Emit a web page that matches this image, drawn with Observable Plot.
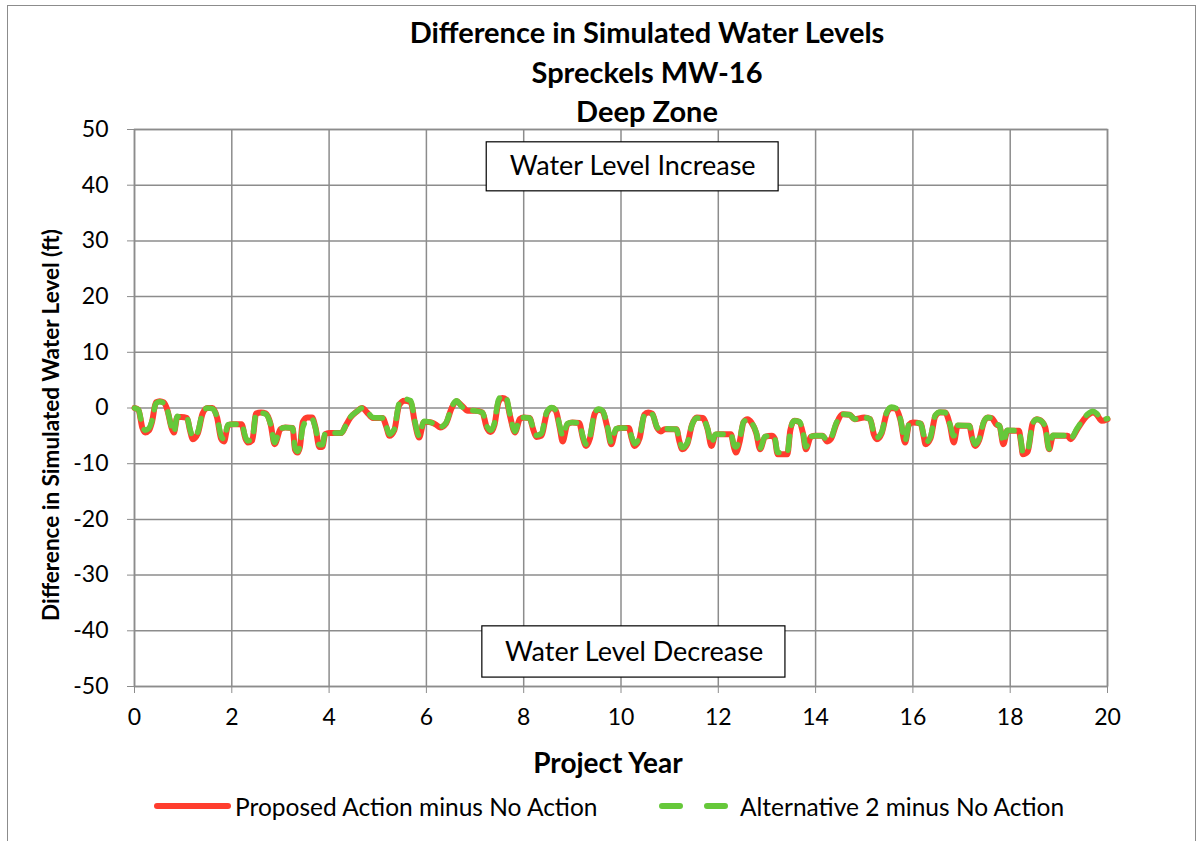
<!DOCTYPE html>
<html>
<head>
<meta charset="utf-8">
<script src="https://cdn.jsdelivr.net/npm/d3@7"></script>
<script src="https://cdn.jsdelivr.net/npm/@observablehq/plot@0.6"></script>
<style>
  html, body { margin: 0; padding: 0; background: #fff; }
  #chart { position: relative; width: 1203px; height: 841px; overflow: hidden; font-family: Lato, "Open Sans", sans-serif; color: #000; }
  #border { position: absolute; left: 7px; top: 5px; width: 1189px; height: 900px; border: 1px solid #8c8c8c; box-sizing: border-box; }
  #title { position: absolute; left: 0; width: 1294px; top: 12px; text-align: center; font-weight: 700; font-size: 29px; line-height: 39.5px; }
  #ylabel { position: absolute; left: 50px; top: 425px; transform: translate(-50%, -50%) rotate(-90deg); white-space: nowrap; font-weight: 700; font-size: 22.5px; }
  #xlabel { position: absolute; left: 608px; top: 762px; transform: translate(-50%, -50%); white-space: nowrap; font-weight: 700; font-size: 28px; }
  #plot { position: absolute; left: 0; top: 0; }
  #legend { position: absolute; left: 0; top: 789px; width: 1203px; height: 34px; }
  #legend .item { position: absolute; top: 0; display: flex; align-items: center; height: 34px; font-size: 24.5px; white-space: nowrap; }
</style>
</head>
<body>
<div id="chart">
  <div id="border"></div>
  <div id="plot"></div>
  <div id="title">Difference in Simulated Water Levels<br>Spreckels MW-16<br>Deep Zone</div>
  <div id="ylabel">Difference in Simulated Water Level (ft)</div>
  <div id="xlabel">Project Year</div>
  <div id="legend"></div>
</div>
<script>
// Project year of each simulated value
const years = [
  0.00, 0.08, 0.16, 0.22, 0.30, 0.36, 0.44, 0.52, 0.60, 0.68, 0.76, 0.81, 0.88, 0.96,
  1.08, 1.14, 1.20, 1.30, 1.40, 1.50, 1.60, 1.70, 1.78, 1.84, 1.92,
  2.00, 2.20, 2.28, 2.33, 2.42, 2.50, 2.60, 2.70, 2.80, 2.88,
  3.00, 3.10, 3.25, 3.30, 3.35, 3.40, 3.46, 3.55, 3.65, 3.72, 3.80, 3.86, 3.92,
  4.00, 4.25, 4.34, 4.44, 4.56, 4.68, 4.78, 4.90,
  5.10, 5.18, 5.24, 5.34, 5.44, 5.55, 5.68, 5.76, 5.85, 5.95,
  6.05, 6.20, 6.28, 6.40, 6.52, 6.62, 6.72, 6.85,
  7.00, 7.15, 7.24, 7.32, 7.40, 7.48, 7.56, 7.64, 7.72, 7.82, 7.92,
  8.00, 8.12, 8.20, 8.26, 8.36, 8.48, 8.58, 8.66, 8.74, 8.80, 8.90,
  9.00, 9.14, 9.22, 9.28, 9.36, 9.46, 9.54, 9.62, 9.72, 9.80, 9.90,
  10.00, 10.16, 10.22, 10.28, 10.38, 10.48, 10.56, 10.64, 10.74, 10.82, 10.90,
  11.14, 11.20, 11.26, 11.36, 11.46, 11.56, 11.68, 11.78, 11.86, 11.94,
  12.00, 12.26, 12.32, 12.36, 12.44, 12.52, 12.60, 12.68, 12.78, 12.86, 12.96,
  13.10, 13.16, 13.22, 13.42, 13.48, 13.56, 13.66, 13.74, 13.80, 13.90,
  14.00, 14.14, 14.24, 14.32, 14.42, 14.56, 14.70, 14.80,
  15.00, 15.12, 15.20, 15.26, 15.36, 15.46, 15.56, 15.66, 15.74, 15.84, 15.92,
  16.00, 16.16, 16.22, 16.26, 16.36, 16.46, 16.56, 16.66, 16.76, 16.84, 16.92,
  17.16, 17.22, 17.28, 17.36, 17.46, 17.54, 17.62, 17.72, 17.78, 17.86, 17.94,
  18.18, 18.22, 18.26, 18.36, 18.46, 18.55, 18.62, 18.72, 18.80, 18.88,
  19.18, 19.24, 19.38, 19.58, 19.70, 19.78, 19.88, 20.00
];

// Proposed Action minus No Action (ft)
const proposed = [
  0.0, -0.3, -3.5, -4.4, -4.0, -2.5, 1.0, 1.2, 1.0, -0.5, -3.5, -4.4, -1.6, -1.6,
  -1.8, -4.0, -5.6, -4.6, -1.0, 0.0, 0.0, -1.8, -5.5, -6.0, -3.2,
  -2.9, -2.9, -5.5, -6.2, -5.8, -1.0, -0.8, -1.0, -3.0, -6.5,
  -3.8, -3.5, -3.6, -7.5, -8.0, -7.0, -2.5, -1.7, -1.7, -3.5, -7.0, -7.0, -4.7,
  -4.5, -4.5, -3.2, -1.7, -0.7, 0.0, -0.8, -1.8,
  -1.8, -3.5, -5.0, -4.0, 0.5, 1.3, 1.0, -2.5, -5.3, -2.5,
  -2.5, -3.0, -3.5, -2.8, 0.0, 1.2, 0.5, -0.5,
  -0.5, -0.8, -3.5, -4.3, -3.0, 1.0, 1.8, 1.5, -1.5, -4.4, -2.0,
  -1.7, -1.8, -4.0, -5.2, -5.0, -0.8, 0.0, -0.5, -3.5, -6.0, -2.9,
  -2.6, -2.7, -5.5, -6.8, -5.5, -1.0, -0.3, -0.6, -3.5, -6.5, -3.8,
  -3.6, -3.6, -5.5, -6.8, -5.5, -1.2, -0.8, -1.0, -3.5, -4.2, -3.8,
  -3.8, -6.0, -7.4, -6.5, -3.0, -1.7, -1.8, -3.8, -6.8, -4.8,
  -4.7, -4.7, -7.0, -8.0, -6.0, -2.5, -2.0, -2.6, -4.5, -7.4, -5.2,
  -5.0, -5.5, -8.3, -8.3, -4.0, -2.3, -2.5, -4.5, -7.4, -5.2,
  -5.0, -5.0, -6.0, -5.5, -3.0, -1.1, -1.2, -2.0,
  -1.7, -2.0, -4.8, -5.6, -4.5, -1.0, 0.0, -0.2, -2.0, -6.2, -3.0,
  -2.6, -2.8, -5.0, -6.5, -5.5, -1.5, -0.8, -0.8, -3.0, -6.2, -3.2,
  -3.2, -5.5, -6.8, -5.8, -2.5, -1.7, -1.8, -3.0, -3.2, -6.5, -4.1,
  -4.1, -6.0, -8.3, -7.8, -2.8, -2.0, -2.2, -3.5, -7.4, -5.0,
  -5.0, -5.6, -3.8, -1.4, -0.8, -1.2, -2.3, -2.0
];

// Alternative 2 minus No Action (ft)
const alternative2 = [
  0.0, -0.3, -3.2, -4.0, -3.6, -2.3, 0.8, 1.1, 0.9, -0.5, -3.4, -4.4, -1.5, -1.6,
  -1.8, -3.8, -5.2, -4.3, -0.9, 0.0, -0.1, -1.8, -5.0, -5.6, -3.0,
  -2.9, -2.9, -5.2, -5.9, -5.5, -1.0, -0.9, -1.1, -3.0, -6.2,
  -3.7, -3.5, -3.6, -7.2, -7.8, -6.8, -3.5, -2.2, -2.0, -3.6, -6.6, -6.6, -4.6,
  -4.5, -4.5, -3.2, -1.6, -0.7, 0.0, -0.6, -1.7,
  -1.8, -3.4, -4.7, -3.8, 0.8, 1.6, 1.3, -2.3, -5.0, -2.4,
  -2.5, -3.0, -3.4, -2.7, 0.2, 1.3, 0.3, -0.3,
  -0.5, -0.8, -3.2, -4.0, -2.7, 1.4, 2.2, 1.9, -1.3, -4.2, -1.9,
  -1.7, -1.8, -3.8, -4.9, -4.6, -0.6, 0.1, -0.4, -3.2, -5.0, -2.8,
  -2.6, -2.7, -5.2, -6.5, -5.2, -0.9, -0.2, -0.5, -3.3, -6.2, -3.7,
  -3.6, -3.6, -5.2, -6.4, -5.2, -1.3, -0.9, -1.1, -3.4, -4.0, -3.7,
  -3.8, -5.8, -7.1, -6.3, -3.0, -1.8, -1.9, -3.7, -6.4, -4.7,
  -4.7, -4.7, -6.6, -7.0, -5.6, -2.5, -2.1, -2.6, -4.4, -7.2, -5.1,
  -5.0, -5.4, -8.0, -8.0, -4.0, -2.3, -2.4, -4.3, -7.0, -5.1,
  -5.0, -5.0, -5.8, -5.3, -2.8, -1.1, -1.2, -2.0,
  -1.7, -2.0, -4.6, -5.3, -4.3, -0.8, 0.2, -0.1, -1.9, -5.9, -2.9,
  -2.6, -2.8, -4.8, -6.2, -5.2, -1.3, -0.7, -0.8, -2.9, -5.0, -3.1,
  -3.2, -5.3, -6.5, -5.6, -2.4, -1.7, -1.8, -2.9, -3.2, -6.2, -4.0,
  -4.1, -5.8, -8.0, -7.5, -2.8, -2.0, -2.2, -3.4, -7.3, -4.9,
  -5.0, -5.5, -3.6, -1.2, -0.6, -1.0, -2.1, -1.9
];

// Axis ticks
const xTicks = [0, 2, 4, 6, 8, 10, 12, 14, 16, 18, 20];
const yTicks = [-50, -40, -30, -20, -10, 0, 10, 20, 30, 40, 50];

// Boxed notes inside the plot (data units)
const noteLabels = ["Water Level Increase", "Water Level Decrease"];
const noteX = [10.24, 10.27];
const noteY = [43.4, -43.9];
const noteX1 = [7.24, 7.15];
const noteX2 = [13.24, 13.38];
const noteY1 = [38.9, -48.4];
const noteY2 = [47.7, -39.2];

const seriesNames = ["Proposed Action minus No Action", "Alternative 2 minus No Action"];
const seriesColors = ["#ff3d2e", "#66c83a"];

const proposedRows = years.map((t, i) => ({year: t, value: proposed[i]}));
const altRows = years.map((t, i) => ({year: t, value: alternative2[i]}));
const notes = noteLabels.map((label, i) => ({
  label, x: noteX[i], y: noteY[i], x1: noteX1[i], x2: noteX2[i], y1: noteY1[i], y2: noteY2[i]
}));

const gridColor = "#8c8c8c";

const chart = Plot.plot({
  width: 1203,
  height: 780,
  marginLeft: 134,
  marginRight: 96,
  marginTop: 129,
  marginBottom: 94,
  x: {domain: [0, 20]},
  y: {domain: [-50, 50]},
  style: {fontFamily: "Lato, 'Open Sans', sans-serif", fontSize: "23px", color: "#000", background: "transparent"},
  marks: [
    Plot.gridX(xTicks, {stroke: gridColor, strokeOpacity: 1, strokeWidth: 1.5}),
    Plot.gridY(yTicks, {stroke: gridColor, strokeOpacity: 1, strokeWidth: 1.5}),
    Plot.frame({stroke: gridColor, strokeWidth: 1.5}),
    Plot.axisX(xTicks, {tickSize: 7, tickPadding: 15, label: null, tickFormat: d => `${d}`, stroke: gridColor, fill: "#000", fontSize: 23}),
    Plot.axisY(yTicks, {tickSize: 7, tickPadding: 19, label: null, tickFormat: d => `${d}`, stroke: gridColor, fill: "#000", fontSize: 23}),
    Plot.rect(notes, {x1: "x1", x2: "x2", y1: "y1", y2: "y2", fill: "#fff", stroke: "#000", strokeWidth: 1.2}),
    Plot.text(notes, {x: "x", y: "y", text: "label", fontSize: 27, fill: "#000"}),
    Plot.line(proposedRows, {x: "year", y: "value", stroke: seriesColors[0], strokeWidth: 6, curve: "monotone-x", strokeLinejoin: "round", strokeLinecap: "round"}),
    Plot.line(altRows, {x: "year", y: "value", stroke: seriesColors[1], strokeWidth: 5.5, curve: "monotone-x", strokeDasharray: "14,11", strokeLinecap: "round", strokeLinejoin: "round"})
  ]
});
document.getElementById("plot").appendChild(chart);

// Legend
const legend = document.getElementById("legend");
const legendItems = [
  {left: 154, dash: null},
  {left: 659, dash: "18,27"}
];
legendItems.forEach((item, i) => {
  const div = document.createElement("div");
  div.className = "item";
  div.style.left = item.left + "px";
  const sw = d3.create("svg").attr("width", 78).attr("height", 34).style("margin-right", "3px");
  const ln = sw.append("line")
    .attr("x1", 3).attr("x2", i === 0 ? 74 : 72).attr("y1", 17).attr("y2", 17)
    .attr("stroke", seriesColors[i]).attr("stroke-width", 6).attr("stroke-linecap", "round");
  if (item.dash) ln.attr("stroke-dasharray", item.dash);
  div.appendChild(sw.node());
  const span = document.createElement("span");
  span.textContent = seriesNames[i];
  div.appendChild(span);
  legend.appendChild(div);
});
</script>
</body>
</html>
